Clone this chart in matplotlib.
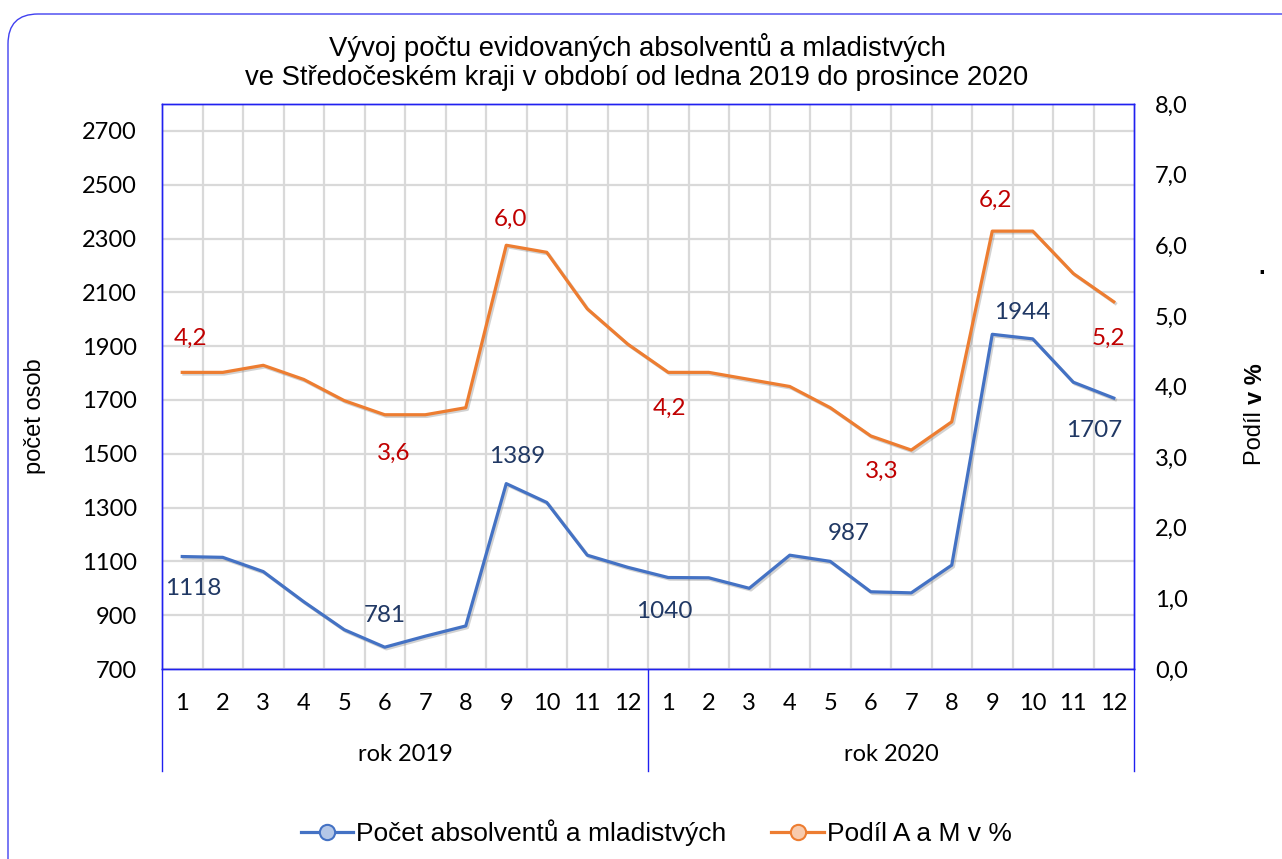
import matplotlib
matplotlib.use('Agg')
from matplotlib import pyplot as plt
import matplotlib.patches as mpatches
import matplotlib.transforms as mtransforms
import matplotlib.patheffects as pe
import numpy as np

title = "Vývoj počtu evidovaných absolventů a mladistvých\nve Středočeském kraji v období od ledna 2019 do prosince 2020"
months = [str(m) for m in range(1, 13)] * 2
years = ['rok 2019', 'rok 2020']

pocet = [1118, 1115, 1062, 950, 846, 781, 822, 860, 1389, 1319, 1123, 1078,
         1040, 1039, 1000, 1123, 1100, 987, 983, 1086, 1944, 1927, 1766, 1707]
podil = [4.2, 4.2, 4.3, 4.1, 3.8, 3.6, 3.6, 3.7, 6.0, 5.9, 5.1, 4.6,
         4.2, 4.2, 4.1, 4.0, 3.7, 3.3, 3.1, 3.5, 6.2, 6.2, 5.6, 5.2]

# which points carry a data label, and where (pixel offsets)
pocet_labels = {0: (11, -32), 5: (0, 32), 8: (11, 27), 12: (-4, -34),
                17: (-22, 58), 20: (30, 22), 23: (-20, -32)}
podil_labels = {0: (8, 34), 5: (9, -39), 8: (4, 26), 12: (1, -36),
                17: (11, -35), 20: (3, 31), 23: (-5, -37)}

blue = '#4472C4'
orange = '#ED7D31'
frame = '#2020F0'
sans = 'Liberation Sans'
calib = 'Lato'

W, H = 1282, 859
fig = plt.figure(figsize=(W / 100, H / 100), dpi=100)

# outer rounded border
border = mpatches.FancyBboxPatch((8, -60), 1400, H - 14 + 60,
                                 boxstyle="round,pad=0,rounding_size=30",
                                 transform=mtransforms.IdentityTransform(),
                                 fc='white', ec='#4040F0', lw=1.0, zorder=0)
fig.add_artist(border)

ax = fig.add_axes([162 / W, 1 - 669 / H, 972 / W, 565 / H])
ax.set_zorder(2)
ax2 = ax.twinx()

x = np.arange(len(months))
shadow = [pe.SimpleLineShadow(offset=(1.2, -1.2), shadow_color='gray', alpha=0.35), pe.Normal()]
ax.plot(x, pocet, color=blue, lw=2.3, solid_joinstyle='round', path_effects=shadow, zorder=3)
ax2.plot(x, podil, color=orange, lw=2.3, solid_joinstyle='round', path_effects=shadow, zorder=3)

ax.set_xlim(-0.5, len(months) - 0.5)
ax.set_ylim(700, 2800)
ax2.set_ylim(0, 8)

ax.set_yticks(np.arange(700, 2701, 200))
ax2.set_yticks(np.arange(0, 9, 1))
ax2.set_yticklabels([f"{v:.1f}".replace('.', ',') for v in range(0, 9)])
ax.set_xticks(x)
ax.set_xticklabels(months)

# grid: horizontal at left ticks, vertical at category boundaries
ax.grid(axis='y', color='#D9D9D9', lw=1.6)
for b in np.arange(0.5, len(months) - 1, 1):
    ax.axvline(b, color='#D9D9D9', lw=1.6, zorder=0.5)
ax.set_axisbelow(True)

for a in (ax, ax2):
    for s in a.spines.values():
        s.set_color(frame)
        s.set_linewidth(1.0)
ax.tick_params(axis='y', length=0, pad=18, labelsize=17)
ax.tick_params(axis='x', length=0, pad=17, labelsize=17)
ax2.tick_params(axis='y', length=0, pad=15, labelsize=17)
for lab in ax.get_yticklabels() + ax.get_xticklabels() + ax2.get_yticklabels():
    lab.set_fontfamily(calib)

# category axis separators and year labels
trans = mtransforms.blended_transform_factory(ax.transData, ax.transAxes)
for b in [-0.5, 11.5, 23.5]:
    ax.plot([b, b], [0, -0.18], color=frame, lw=1.0, transform=trans, clip_on=False)
for i, yr in enumerate(years):
    ax.text(5.5 + 12 * i, -0.151, yr, transform=trans, ha='center', va='center',
            fontsize=17, family=calib)

# data labels
for i, (dx, dy) in pocet_labels.items():
    ax.annotate(str(pocet[i]), (x[i], pocet[i]), xytext=(dx, dy), textcoords='offset pixels',
                ha='center', va='center', color='#203864', fontsize=17.5, family=calib, zorder=5)
for i, (dx, dy) in podil_labels.items():
    ax2.annotate(f"{podil[i]:.1f}".replace('.', ','), (x[i], podil[i]), xytext=(dx, dy),
                 textcoords='offset pixels', ha='center', va='center', color='#C00000',
                 fontsize=17.5, family=calib, zorder=5)

fig.text(637 / W, 1 - 62 / H, title, ha='center', va='center', fontsize=19.8,
         family=sans, linespacing=1.12)

fig.text(35 / W, 1 - 416 / H, 'počet osob', rotation=90, ha='center', va='center',
         fontsize=17, family=sans)
t1 = fig.text(1255 / W, 1 - 465 / H, 'Podíl ', rotation=90, rotation_mode='anchor',
              ha='left', va='center', fontsize=17, family=sans)
fig.canvas.draw()
bb = t1.get_window_extent()
fig.text(1255 / W, bb.y1 / H, 'v %', rotation=90, rotation_mode='anchor',
         ha='left', va='center', fontsize=17, family=sans, fontweight='bold')
fig.text(1262 / W, 1 - 268 / H, '.', ha='center', va='center', fontsize=17,
         family=sans, fontweight='bold')

# legend
h1, = ax.plot([], [], color=blue, lw=2.3, marker='o', ms=11, mfc='#B4C7E7', mec=blue, mew=1.5)
h2, = ax.plot([], [], color=orange, lw=2.3, marker='o', ms=11, mfc='#F8CBAD', mec=orange, mew=1.5)
fig.legend([h1, h2], ['Počet absolventů a mladistvých', 'Podíl A a M v %'],
           loc='center', bbox_to_anchor=(656 / W, 1 - 833 / H), ncol=2, frameon=False,
           prop={'family': sans, 'size': 19}, handlelength=2.0, handletextpad=0.1,
           columnspacing=1.7)

fig.savefig('out.png', dpi=100)
